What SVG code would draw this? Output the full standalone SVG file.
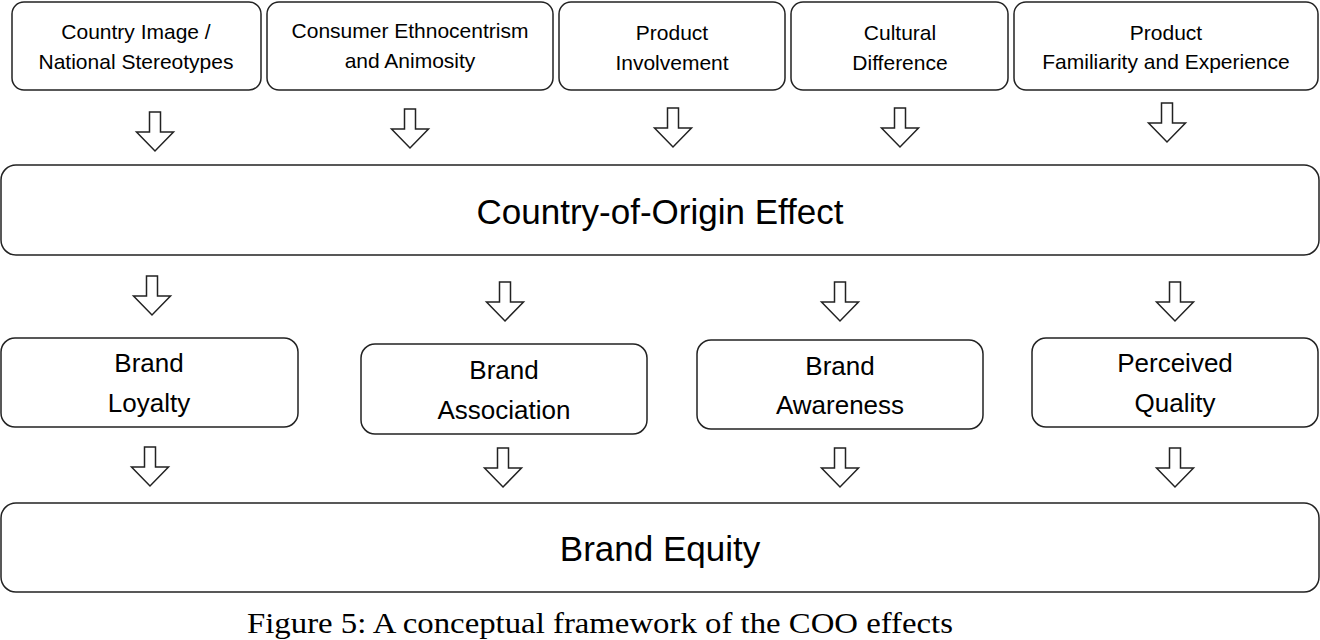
<svg xmlns="http://www.w3.org/2000/svg" width="1320" height="640" viewBox="0 0 1320 640">
<defs>
<style>
.b{fill:#fff;stroke:#222;stroke-width:1.5}
.a{fill:#fff;stroke:#222;stroke-width:1.5;stroke-linejoin:miter}
.s{font-family:"Liberation Sans",Arial,sans-serif;font-size:21px;fill:#000;text-anchor:middle}
.m{font-family:"Liberation Sans",Arial,sans-serif;font-size:26px;fill:#000;text-anchor:middle}
.l{font-family:"Liberation Sans",Arial,sans-serif;font-size:35px;fill:#000;text-anchor:middle}
.c{font-family:"Liberation Serif","Times New Roman",serif;font-size:29px;fill:#000}
</style>
<path id="arr" d="M-5.5,0 H5.5 V20 H18.5 L0,39 L-18.5,20 H-5.5 Z"/>
</defs>
<g id="n1"><rect class="b" x="12" y="2" width="249" height="88" rx="12"/><text class="s" x="136" y="39">Country Image /</text><text class="s" x="136" y="69">National Stereotypes</text></g>
<g id="n2"><rect class="b" x="267" y="2" width="286" height="88" rx="12"/><text class="s" x="410" y="38">Consumer Ethnocentrism</text><text class="s" x="410" y="68">and Animosity</text></g>
<g id="n3"><rect class="b" x="559" y="2" width="226" height="88" rx="12"/><text class="s" x="672" y="40">Product</text><text class="s" x="672" y="70">Involvement</text></g>
<g id="n4"><rect class="b" x="791" y="2" width="217" height="88" rx="12"/><text class="s" x="900" y="40">Cultural</text><text class="s" x="900" y="70">Difference</text></g>
<g id="n5"><rect class="b" x="1014" y="2" width="304" height="88" rx="12"/><text class="s" x="1166" y="40">Product</text><text class="s" x="1166" y="69">Familiarity and Experience</text></g>
<g id="coo"><rect class="b" x="1" y="165" width="1318" height="90" rx="15"/><text class="l" x="660" y="224">Country-of-Origin Effect</text></g>
<g id="loy"><rect class="b" x="1" y="338" width="297" height="89" rx="14"/><text class="m" x="149" y="372">Brand</text><text class="m" x="149" y="412">Loyalty</text></g>
<g id="ass"><rect class="b" x="361" y="344" width="286" height="90" rx="14"/><text class="m" x="504" y="379">Brand</text><text class="m" x="504" y="419">Association</text></g>
<g id="awa"><rect class="b" x="697" y="340" width="286" height="89" rx="14"/><text class="m" x="840" y="375">Brand</text><text class="m" x="840" y="414">Awareness</text></g>
<g id="qua"><rect class="b" x="1032" y="338" width="286" height="89" rx="14"/><text class="m" x="1175" y="372">Perceived</text><text class="m" x="1175" y="412">Quality</text></g>
<g id="eq"><rect class="b" x="1" y="503" width="1318" height="89" rx="15"/><text class="l" x="660" y="561">Brand Equity</text></g>
<g id="connectors">
<use href="#arr" class="a" x="155" y="112"/>
<use href="#arr" class="a" x="410" y="109"/>
<use href="#arr" class="a" x="673" y="108"/>
<use href="#arr" class="a" x="900" y="108"/>
<use href="#arr" class="a" x="1167" y="103"/>
<use href="#arr" class="a" x="152" y="276"/>
<use href="#arr" class="a" x="505" y="282"/>
<use href="#arr" class="a" x="840" y="282"/>
<use href="#arr" class="a" x="1175" y="282"/>
<use href="#arr" class="a" x="150" y="447"/>
<use href="#arr" class="a" x="503" y="448"/>
<use href="#arr" class="a" x="840" y="448"/>
<use href="#arr" class="a" x="1175" y="448"/>
</g>
<text class="c" x="247" y="633" textLength="706" lengthAdjust="spacingAndGlyphs">Figure 5: A conceptual framework of the COO effects</text>
</svg>
